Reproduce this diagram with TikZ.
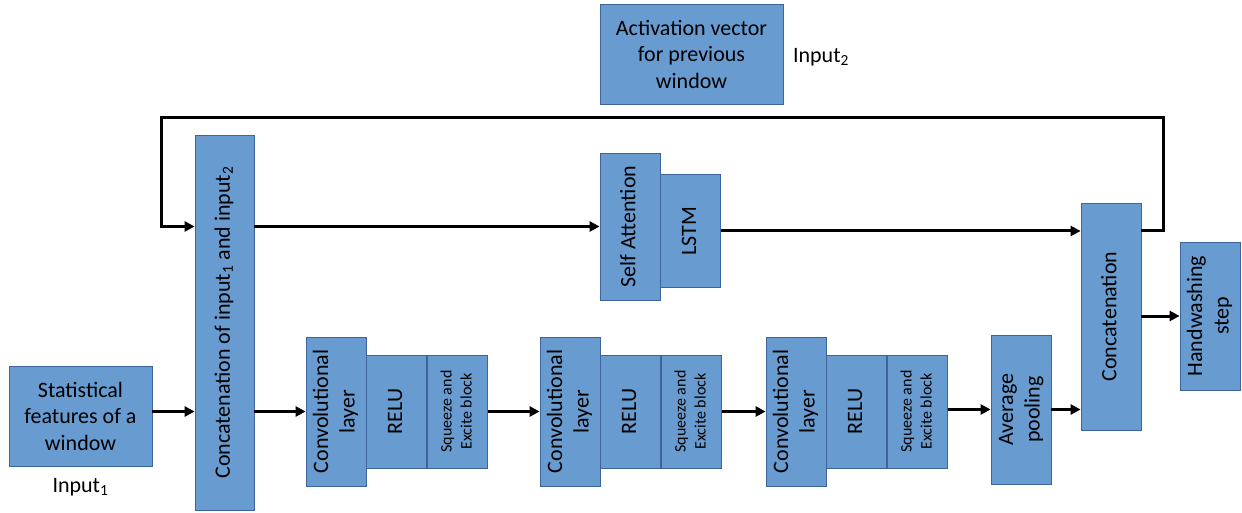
\documentclass[tikz,border=0pt]{standalone}
\usepackage{fontspec}
\setmainfont{Carlito}
\usetikzlibrary{positioning, arrows.meta}
\definecolor{boxfill}{RGB}{104,155,208}
\definecolor{boxline}{RGB}{62,100,156}
\tikzstyle{Arrow} = [
    line width=3pt,
    line join=miter,
    -{Triangle[length=10pt,width=10pt]}
]
\newcommand{\vlabel}[1]{\rotatebox{90}{\begin{tabular}{@{}c@{}}#1\end{tabular}}}

\begin{document}
\begin{tikzpicture}[
x=1pt, y=-1pt,
node distance=0pt,
block/.style={
    draw=boxline,
    fill=boxfill,
    line width=0.8pt,
    inner sep=0pt,
    align=center,
    font=\fontsize{22}{26.5}\selectfont
    },
small/.style={font=\fontsize{16}{20}\selectfont},
plain/.style={inner sep=0pt, font=\fontsize{22}{26.5}\selectfont}
]
\useasboundingbox (0,0) rectangle (1242,513);

% inputs
\node [block, minimum width=143pt, minimum height=100pt] (stat) at (80.5,416) {Statistical\\features of a\\window};
\node [plain] (in1) at (80.5,487) {Input\textsubscript{1}};
\node [block, minimum width=183pt, minimum height=100pt] (actv) at (691.5,54) {Activation vector\\for previous\\window};
\node [plain] (in2) at (821,57) {Input\textsubscript{2}};

\node [block, minimum width=59pt, minimum height=375pt] (concatA) at (224.5,322.5) {\vlabel{Concatenation of input\textsubscript{1} and input\textsubscript{2}}};

% upper branch
\node [block, minimum width=60pt, minimum height=147pt] (selfatt) at (630,226.5) {\vlabel{Self Attention}};
\node [block, minimum width=60pt, minimum height=113pt, right=of selfatt, yshift=-4.5pt] (lstm) {\vlabel{LSTM}};

% lower branch
\node [block, minimum width=60pt, minimum height=149pt] (conv1) at (336,411.5) {\vlabel{Convolutional\\layer}};
\node [block, minimum width=60pt, minimum height=113pt, right=of conv1] (relu1) {\vlabel{RELU}};
\node [block, small, minimum width=60pt, minimum height=113pt, right=of relu1] (se1) {\vlabel{Squeeze and\\Excite block}};

\node [block, minimum width=60pt, minimum height=149pt] (conv2) at (570,411.5) {\vlabel{Convolutional\\layer}};
\node [block, minimum width=60pt, minimum height=113pt, right=of conv2] (relu2) {\vlabel{RELU}};
\node [block, small, minimum width=60pt, minimum height=113pt, right=of relu2] (se2) {\vlabel{Squeeze and\\Excite block}};

\node [block, minimum width=60pt, minimum height=149pt] (conv3) at (796,411.5) {\vlabel{Convolutional\\layer}};
\node [block, minimum width=60pt, minimum height=113pt, right=of conv3] (relu3) {\vlabel{RELU}};
\node [block, small, minimum width=60pt, minimum height=113pt, right=of relu3] (se3) {\vlabel{Squeeze and\\Excite block}};

\node [block, minimum width=60pt, minimum height=149pt] (avgpool) at (1021,409.5) {\vlabel{Average\\pooling}};

% output
\node [block, minimum width=60pt, minimum height=227pt] (concatB) at (1111,316.5) {\vlabel{Concatenation}};
\node [block, minimum width=60pt, minimum height=148pt] (hand) at (1210,316) {\vlabel{Handwashing\\step}};

\coordinate (loopR) at (1163,118);
\coordinate (loopL) at (161,118);

\draw[Arrow] (stat.east |- conv1.west) -- (concatA.west |- conv1.west);
\draw[Arrow] (concatA.east |- conv1.west) -- (conv1.west);
\draw[Arrow] (se1.east) -- (conv2.west);
\draw[Arrow] (se2.east) -- (conv3.west);
\draw[Arrow] (se3.east |- avgpool.west) -- (avgpool.west);
\draw[Arrow] (avgpool.east) -- (avgpool.east -| concatB.west);

\draw[Arrow] (concatA.east |- selfatt.west) -- (selfatt.west);
\draw[Arrow] (lstm.east) -- (lstm.east -| concatB.west);
\draw[Arrow] (concatB.east |- lstm.east) -| (loopR) -- (loopL) |- (concatA.west |- selfatt.west);

\draw[Arrow] (concatB.east |- hand.west) -- (hand.west);

\end{tikzpicture}
\end{document}
